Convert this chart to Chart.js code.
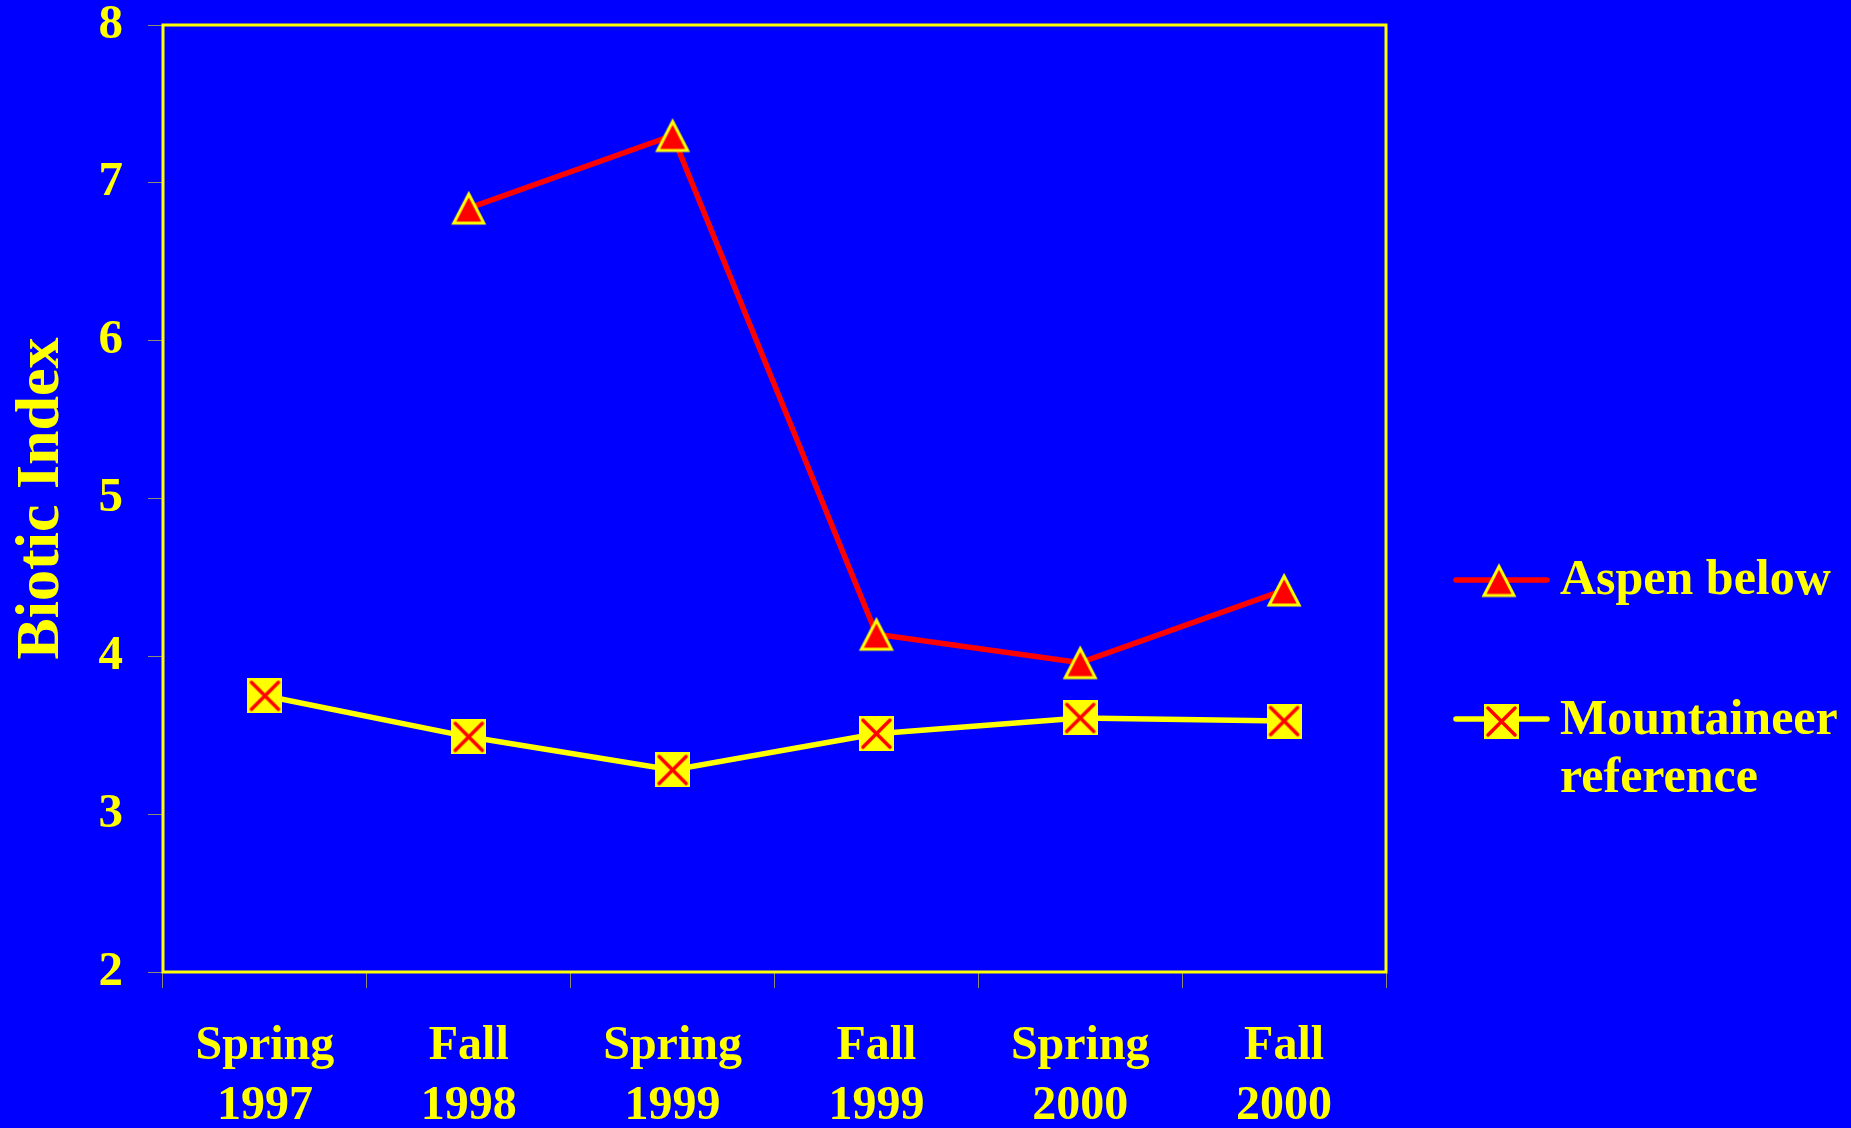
<!DOCTYPE html>
<html>
<head>
<meta charset="utf-8">
<title>Biotic Index</title>
<script src="https://cdn.jsdelivr.net/npm/chart.js@4/dist/chart.umd.min.js"></script>
<style>
  html, body { margin: 0; padding: 0; background: #0000ff; overflow: hidden; }
  canvas { display: block; }
</style>
</head>
<body>
<canvas id="chart" width="1851" height="1128"></canvas>
<script>
// Sampling seasons (two-line axis labels)
const seasons = [
  ['Spring', '1997'],
  ['Fall', '1998'],
  ['Spring', '1999'],
  ['Fall', '1999'],
  ['Spring', '2000'],
  ['Fall', '2000']
];

// Biotic index per season
const aspenBelow     = [null, 6.84, 7.30, 4.14, 3.96, 4.42];
const mountaineerRef = [3.75, 3.49, 3.28, 3.51, 3.61, 3.59];

// Value axis
const yTicks = [2, 3, 4, 5, 6, 7, 8];
const yTitle = 'Biotic Index';

// Legend labels
const aspenLabel = ['Aspen below'];
const mountaineerLabel = ['Mountaineer', 'reference'];

const BLUE = '#0000ff';
const YELLOW = '#ffff00';
const RED = '#ff0000';
const SERIF = "'Liberation Serif', 'Times New Roman', serif";

// Marker: red triangle outlined in yellow
function makeTriangle() {
  const c = document.createElement('canvas');
  c.width = 40; c.height = 40;
  const g = c.getContext('2d');
  g.beginPath();
  g.moveTo(20, 6);
  g.lineTo(35, 35);
  g.lineTo(5, 35);
  g.closePath();
  g.fillStyle = RED;
  g.fill();
  g.lineWidth = 3;
  g.lineJoin = 'miter';
  g.strokeStyle = YELLOW;
  g.stroke();
  return c;
}

// Marker: yellow square with a red cross
function makeCrossSquare() {
  const c = document.createElement('canvas');
  c.width = 35; c.height = 35;
  const g = c.getContext('2d');
  g.fillStyle = YELLOW;
  g.fillRect(0, 0, 35, 35);
  g.strokeStyle = RED;
  g.lineWidth = 3.5;
  g.lineCap = 'round';
  g.beginPath();
  g.moveTo(4, 4); g.lineTo(31, 31);
  g.moveTo(31, 4); g.lineTo(4, 31);
  g.stroke();
  return c;
}

const triangleMark = makeTriangle();
const squareMark = makeCrossSquare();

// Blue page background
const backgroundPlugin = {
  id: 'background',
  beforeDraw(chart) {
    const ctx = chart.ctx;
    ctx.save();
    ctx.fillStyle = BLUE;
    ctx.fillRect(0, 0, chart.width, chart.height);
    ctx.restore();
  }
};

// Yellow frame around the plotting area
const framePlugin = {
  id: 'frame',
  beforeDatasetsDraw(chart) {
    const { left, top, right, bottom } = chart.chartArea;
    const ctx = chart.ctx;
    ctx.save();
    ctx.strokeStyle = YELLOW;
    ctx.lineWidth = 3;
    ctx.strokeRect(left, top, right - left, bottom - top);
    ctx.restore();
  }
};

// Legend at the right: line sample, marker and label per series
const sideLegendPlugin = {
  id: 'sideLegend',
  afterDraw(chart) {
    const ctx = chart.ctx;
    const entries = [
      { ds: chart.data.datasets[0], lineY: 580, markX: 1499, markY: 580.5, textY: 594, lines: aspenLabel },
      { ds: chart.data.datasets[1], lineY: 719, markX: 1501.5, markY: 721.5, textY: 734, lines: mountaineerLabel }
    ];
    ctx.save();
    for (const e of entries) {
      ctx.strokeStyle = e.ds.borderColor;
      ctx.lineWidth = 5.5;
      ctx.lineCap = 'round';
      ctx.beginPath();
      ctx.moveTo(1456, e.lineY);
      ctx.lineTo(1547, e.lineY);
      ctx.stroke();
      const img = e.ds.pointStyle;
      ctx.drawImage(img, e.markX - img.width / 2, e.markY - img.height / 2);
      ctx.fillStyle = YELLOW;
      ctx.font = 'bold 50px ' + SERIF;
      ctx.textAlign = 'left';
      ctx.textBaseline = 'alphabetic';
      e.lines.forEach((t, i) => ctx.fillText(t, 1560, e.textY + i * 58));
    }
    ctx.restore();
  }
};

const tickGray = 'rgba(255,255,0,0.55)';

new Chart(document.getElementById('chart'), {
  type: 'line',
  data: {
    labels: seasons,
    datasets: [
      {
        label: aspenLabel.join(' '),
        data: aspenBelow,
        borderColor: RED,
        borderWidth: 5.5,
        pointStyle: triangleMark,
        pointRadius: 17,
        pointHoverRadius: 17,
        tension: 0,
        spanGaps: false
      },
      {
        label: mountaineerLabel.join(' '),
        data: mountaineerRef,
        borderColor: YELLOW,
        borderWidth: 5.5,
        pointStyle: squareMark,
        pointRadius: 17,
        pointHoverRadius: 17,
        tension: 0
      }
    ]
  },
  options: {
    responsive: false,
    animation: false,
    devicePixelRatio: 1,
    events: [],
    layout: { padding: { top: 25, right: 465, bottom: 0, left: 0 } },
    plugins: {
      legend: { display: false },
      tooltip: { enabled: false }
    },
    scales: {
      x: {
        type: 'category',
        offset: true,
        grid: {
          offset: true,
          drawOnChartArea: false,
          drawTicks: true,
          tickLength: 16,
          tickColor: tickGray,
          lineWidth: 1
        },
        border: { display: false },
        ticks: {
          color: YELLOW,
          padding: 29,
          maxRotation: 0,
          autoSkip: false,
          font: { family: SERIF, size: 48, weight: 'bold', lineHeight: 1.25 }
        },
        afterFit(scale) {
          scale.height = 156;
          scale.paddingLeft = 0;
          scale.paddingRight = 0;
        }
      },
      y: {
        min: 2,
        max: 8,
        afterBuildTicks(scale) { scale.ticks = yTicks.map(v => ({ value: v })); },
        grid: {
          drawOnChartArea: false,
          drawTicks: true,
          tickLength: 15,
          tickColor: tickGray,
          lineWidth: 1
        },
        border: { display: false },
        ticks: {
          color: YELLOW,
          padding: 25,
          font: { family: SERIF, size: 49, weight: 'bold', lineHeight: 1.0 }
        },
        title: {
          display: true,
          text: yTitle,
          color: YELLOW,
          padding: { top: 5, bottom: 0 },
          font: { family: SERIF, size: 62, weight: 'bold', lineHeight: 1.2 }
        },
        afterFit(scale) {
          scale.width = 163;
          scale.paddingTop = 0;
          scale.paddingBottom = 0;
        }
      }
    }
  },
  plugins: [backgroundPlugin, framePlugin, sideLegendPlugin]
});
</script>
</body>
</html>
